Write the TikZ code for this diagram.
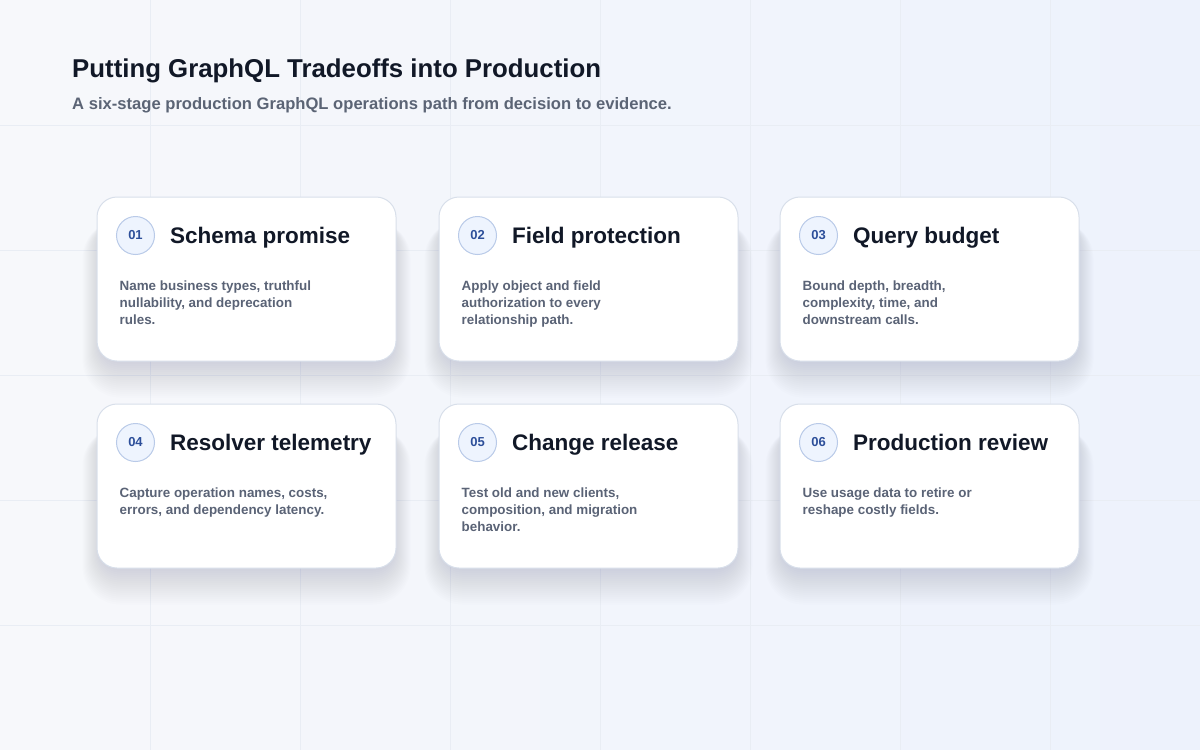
\documentclass[tikz,border=0pt]{standalone}
\usepackage{fontspec}
\setmainfont{Liberation Sans}
\usetikzlibrary{positioning,backgrounds}

\definecolor{bgleft}{HTML}{F7F8FB}
\definecolor{bgright}{HTML}{EDF2FC}
\definecolor{gridline}{HTML}{E9EDF4}
\definecolor{inkdark}{HTML}{111827}
\definecolor{inkgray}{HTML}{5B6475}
\definecolor{cardline}{HTML}{D8DFEA}
\definecolor{shadowtone}{HTML}{5A6A90}
\definecolor{badgefill}{HTML}{EEF4FE}
\definecolor{badgeline}{HTML}{B9CAE8}
\definecolor{badgetext}{HTML}{2D4F9A}
\definecolor{desctext}{HTML}{5A6376}

\tikzset{
  card/.style={draw=cardline, line width=1pt, fill=white, rounded corners=20pt,
    minimum width=299pt, minimum height=164pt},
  cardshadow/.style={fill=shadowtone, opacity=0.011},
  badge/.style={circle, draw=badgeline, line width=1pt, fill=badgefill,
    minimum size=38pt, inner sep=0pt, text=badgetext,
    font=\fontsize{13}{13}\selectfont\bfseries},
  cardtitle/.style={anchor=base west, inner sep=0pt, text=inkdark,
    font=\fontsize{22.5}{26}\selectfont\bfseries},
  carddesc/.style={anchor=north west, inner sep=0pt, align=left, text=desctext,
    font=\fontsize{13.4}{17}\selectfont\bfseries},
}

\begin{document}
\begin{tikzpicture}[x=1pt, y=-1pt]
  \useasboundingbox (0,0) rectangle (1200,750);

  % heading
  \node[anchor=base west, inner sep=0pt, text=inkdark, font=\fontsize{25.8}{30}\selectfont\bfseries] (title) at (72,77) {Putting GraphQL Tradeoffs into Production};
  \node[anchor=base west, inner sep=0pt, text=inkgray, font=\fontsize{16.6}{20}\selectfont\bfseries] (subtitle) at (72,109) {A six-stage production GraphQL operations path from decision to evidence.};

  % cards
  \node[card] (c1) at (246.5,279) {};
  \node[card] (c2) at (588.5,279) {};
  \node[card] (c3) at (929.5,279) {};
  \node[card] (c4) at (246.5,486) {};
  \node[card] (c5) at (588.5,486) {};
  \node[card] (c6) at (929.5,486) {};

  \node[badge] (b1) at ([xshift=39pt,yshift=-39pt]c1.north west) {01};
  \node[badge] (b2) at ([xshift=39pt,yshift=-39pt]c2.north west) {02};
  \node[badge] (b3) at ([xshift=39pt,yshift=-39pt]c3.north west) {03};
  \node[badge] (b4) at ([xshift=39pt,yshift=-39pt]c4.north west) {04};
  \node[badge] (b5) at ([xshift=39pt,yshift=-39pt]c5.north west) {05};
  \node[badge] (b6) at ([xshift=39pt,yshift=-39pt]c6.north west) {06};

  \node[cardtitle] (t1) at ([xshift=15pt,yshift=-7.5pt]b1.east) {Schema promise};
  \node[cardtitle] (t2) at ([xshift=15pt,yshift=-7.5pt]b2.east) {Field protection};
  \node[cardtitle] (t3) at ([xshift=15pt,yshift=-7.5pt]b3.east) {Query budget};
  \node[cardtitle] (t4) at ([xshift=15pt,yshift=-7.5pt]b4.east) {Resolver telemetry};
  \node[cardtitle] (t5) at ([xshift=15pt,yshift=-7.5pt]b5.east) {Change release};
  \node[cardtitle] (t6) at ([xshift=15pt,yshift=-7.5pt]b6.east) {Production review};

  \node[carddesc] (d1) at ([xshift=23pt,yshift=-84pt]c1.north west) {Name business types, truthful\\nullability, and deprecation\\rules.};
  \node[carddesc] (d2) at ([xshift=23pt,yshift=-84pt]c2.north west) {Apply object and field\\authorization to every\\relationship path.};
  \node[carddesc] (d3) at ([xshift=23pt,yshift=-84pt]c3.north west) {Bound depth, breadth,\\complexity, time, and\\downstream calls.};
  \node[carddesc] (d4) at ([xshift=23pt,yshift=-84pt]c4.north west) {Capture operation names, costs,\\errors, and dependency latency.};
  \node[carddesc] (d5) at ([xshift=23pt,yshift=-84pt]c5.north west) {Test old and new clients,\\composition, and migration\\behavior.};
  \node[carddesc] (d6) at ([xshift=23pt,yshift=-84pt]c6.north west) {Use usage data to retire or\\reshape costly fields.};

  % background, grid and soft shadows
  \begin{scope}[on background layer]
    \shade[left color=bgleft, right color=bgright] (0,0) rectangle (1200,750);
    \foreach \gx in {150,300,...,1050}
      \draw[gridline, line width=0.7pt] (\gx,0) -- (\gx,750);
    \foreach \gy in {125,250,...,625}
      \draw[gridline, line width=0.7pt] (0,\gy) -- (1200,\gy);
    \foreach \c in {c1,c2,c3,c4,c5,c6}
      \foreach \s in {1,...,18}
        \fill[cardshadow, rounded corners=20pt+\s pt]
          ([xshift=-\s pt+4pt, yshift=-24pt]\c.north west)
          rectangle ([xshift=\s pt-4pt, yshift=-2*\s pt]\c.south east);
  \end{scope}
\end{tikzpicture}
\end{document}
